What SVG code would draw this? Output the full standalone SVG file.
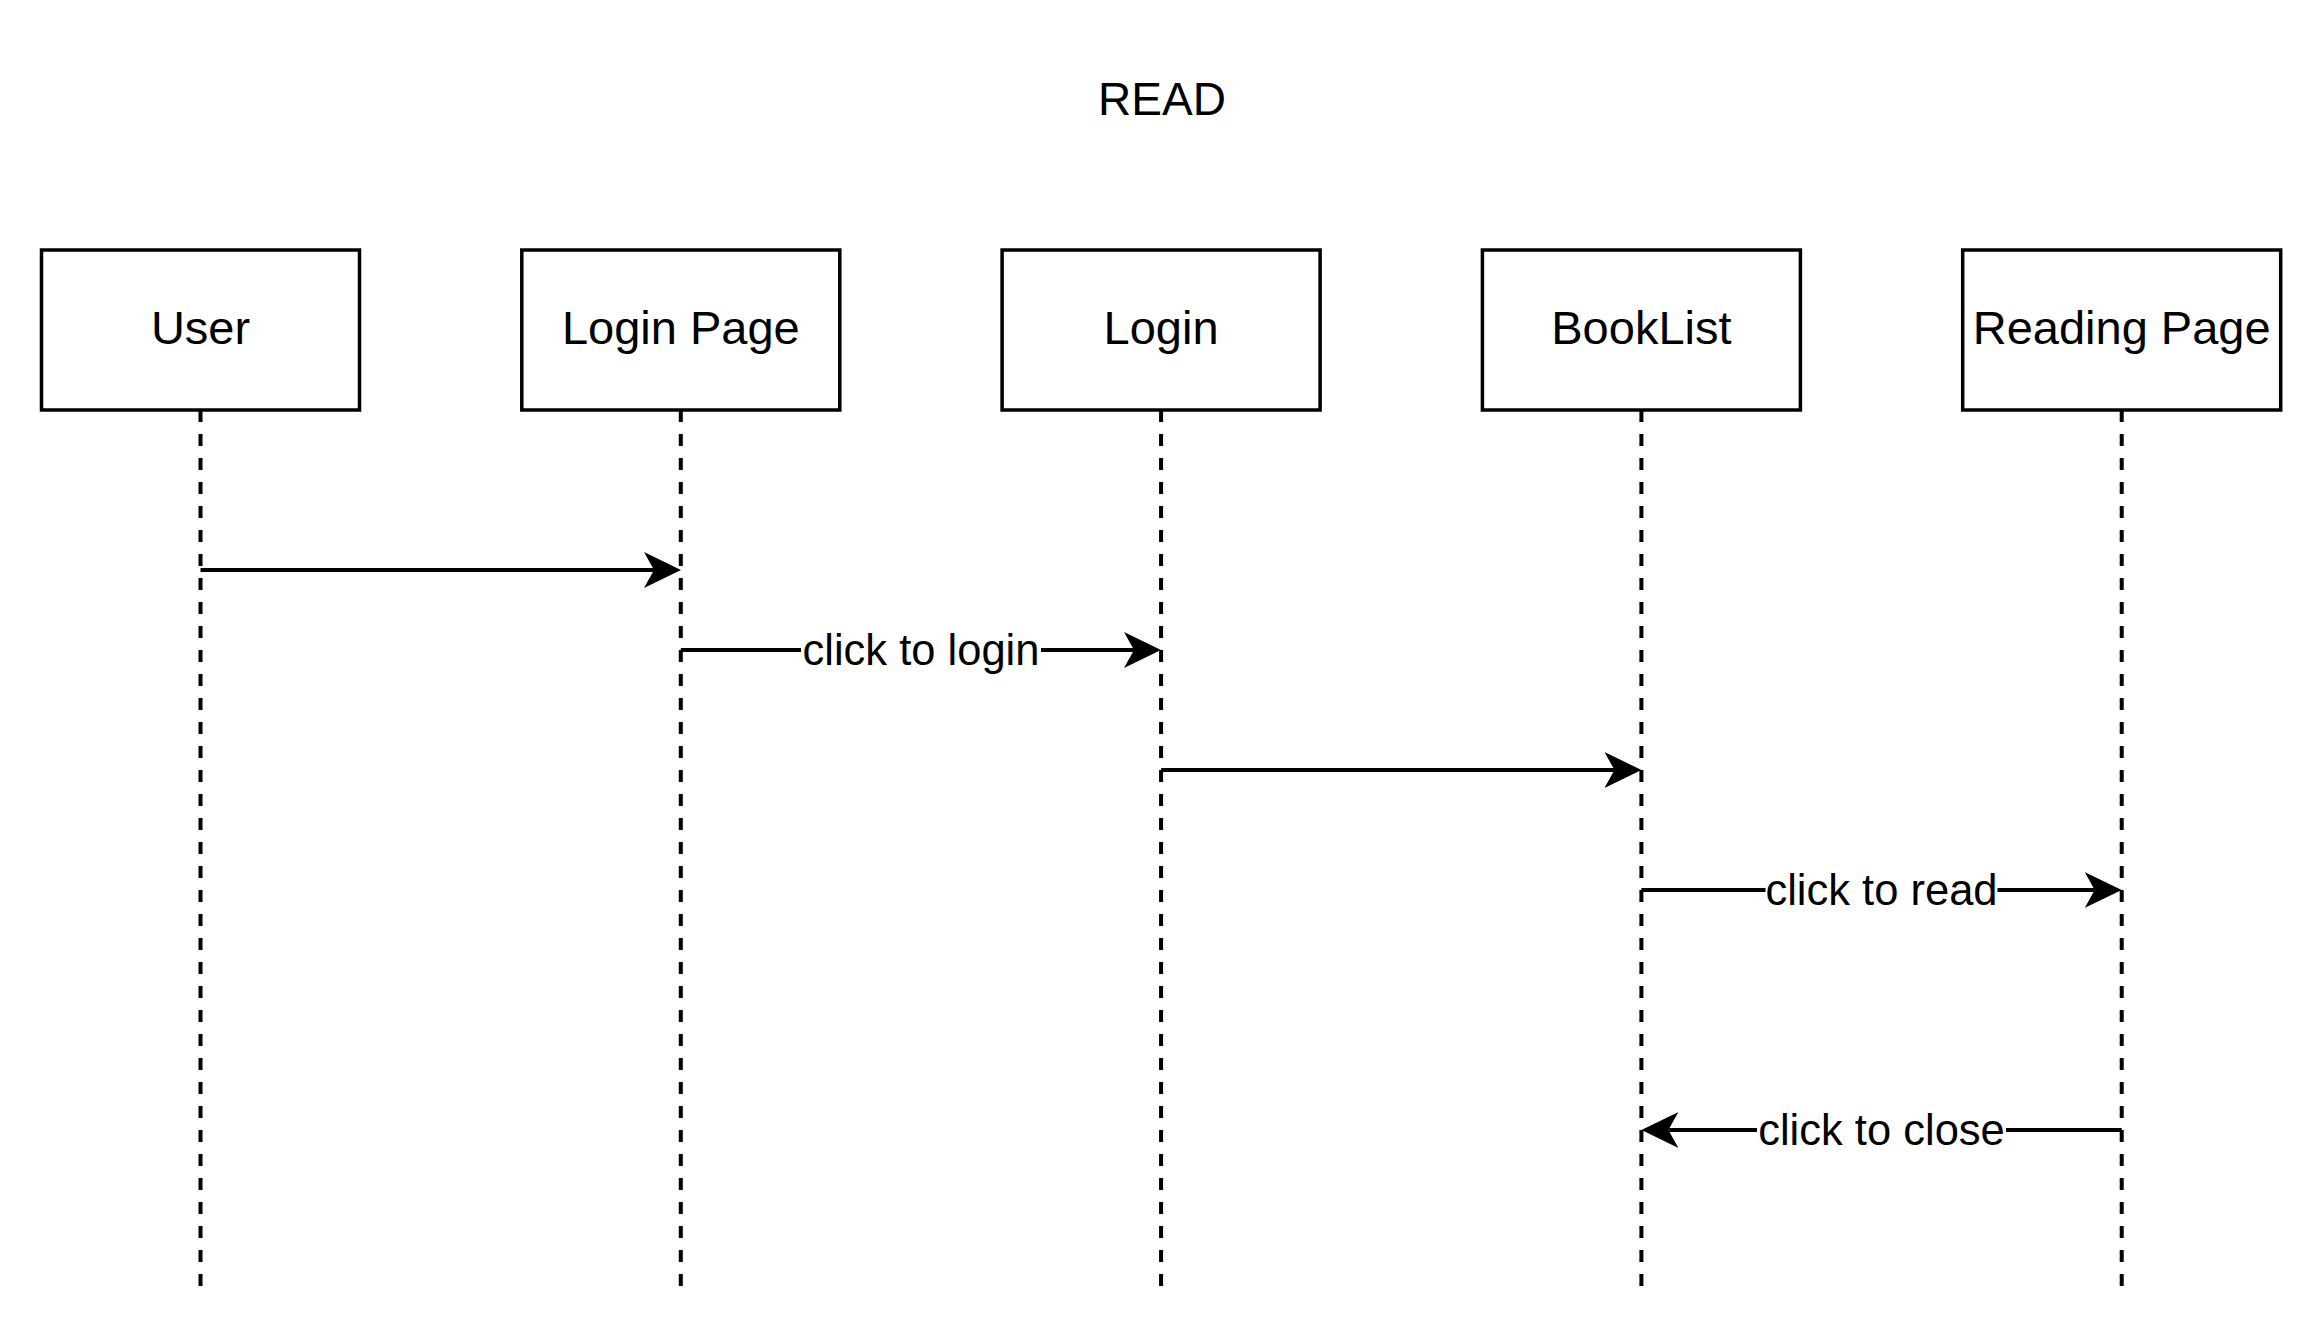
<svg xmlns="http://www.w3.org/2000/svg" width="2324" height="1336" viewBox="0 0 2324 1336">
  <style>
    .box { fill: #ffffff; stroke: #000000; stroke-width: 3.5; }
    .lbl { font-family: "Liberation Sans", Arial, sans-serif; font-size: 47px; fill: #000000; text-anchor: middle; }
    .title { font-family: "Liberation Sans", Arial, sans-serif; font-size: 46px; fill: #000000; text-anchor: middle; }
    .elbl { font-family: "Liberation Sans", Arial, sans-serif; font-size: 43.5px; fill: #000000; text-anchor: middle; }
    .life { stroke: #000000; stroke-width: 4; stroke-dasharray: 12 12; fill: none; }
    .msg { stroke: #000000; stroke-width: 4; fill: none; marker-end: url(#arrow); }
    .bg { fill: #ffffff; }
  </style>
  <defs>
    <marker id="arrow" markerUnits="userSpaceOnUse" viewBox="0 0 38 38" markerWidth="38" markerHeight="38" refX="10" refY="19" orient="auto">
      <path d="M0,1 L37,19 L0,37 L10,19 Z" fill="#000000"/>
    </marker>
  </defs>
  <rect width="2324" height="1336" fill="#ffffff"/>

  <text class="title" x="1162" y="115">READ</text>

  <g id="lifelines">
    <line class="life" x1="200.5" y1="410" x2="200.5" y2="1286"/>
    <line class="life" x1="680.8" y1="410" x2="680.8" y2="1286"/>
    <line class="life" x1="1161.1" y1="410" x2="1161.1" y2="1286"/>
    <line class="life" x1="1641.4" y1="410" x2="1641.4" y2="1286"/>
    <line class="life" x1="2121.7" y1="410" x2="2121.7" y2="1286"/>
  </g>

  <g id="node-user">
    <rect class="box" x="41.5" y="250" width="318" height="160"/>
    <text class="lbl" x="200.5" y="344">User</text>
  </g>
  <g id="node-login-page">
    <rect class="box" x="521.8" y="250" width="318" height="160"/>
    <text class="lbl" x="680.8" y="344">Login Page</text>
  </g>
  <g id="node-login">
    <rect class="box" x="1002.1" y="250" width="318" height="160"/>
    <text class="lbl" x="1161.1" y="344">Login</text>
  </g>
  <g id="node-booklist">
    <rect class="box" x="1482.4" y="250" width="318" height="160"/>
    <text class="lbl" x="1641.4" y="344">BookList</text>
  </g>
  <g id="node-reading-page">
    <rect class="box" x="1962.7" y="250" width="318" height="160"/>
    <text class="lbl" x="2121.7" y="344">Reading Page</text>
  </g>

  <g id="connectors">
    <line class="msg" x1="200.5" y1="570" x2="654" y2="570"/>

    <line class="msg" x1="680.8" y1="650" x2="1134" y2="650"/>
    <rect class="bg" x="801" y="625" width="240" height="50"/>
    <text class="elbl" x="921" y="665">click to login</text>

    <line class="msg" x1="1161.1" y1="770" x2="1614.5" y2="770"/>

    <line class="msg" x1="1641.4" y1="890" x2="2094.7" y2="890"/>
    <rect class="bg" x="1765.5" y="865" width="232" height="50"/>
    <text class="elbl" x="1881.5" y="905">click to read</text>

    <line class="msg" x1="2121.7" y1="1130" x2="1668.4" y2="1130"/>
    <rect class="bg" x="1757" y="1105" width="249" height="50"/>
    <text class="elbl" x="1881.5" y="1145">click to close</text>
  </g>
</svg>
